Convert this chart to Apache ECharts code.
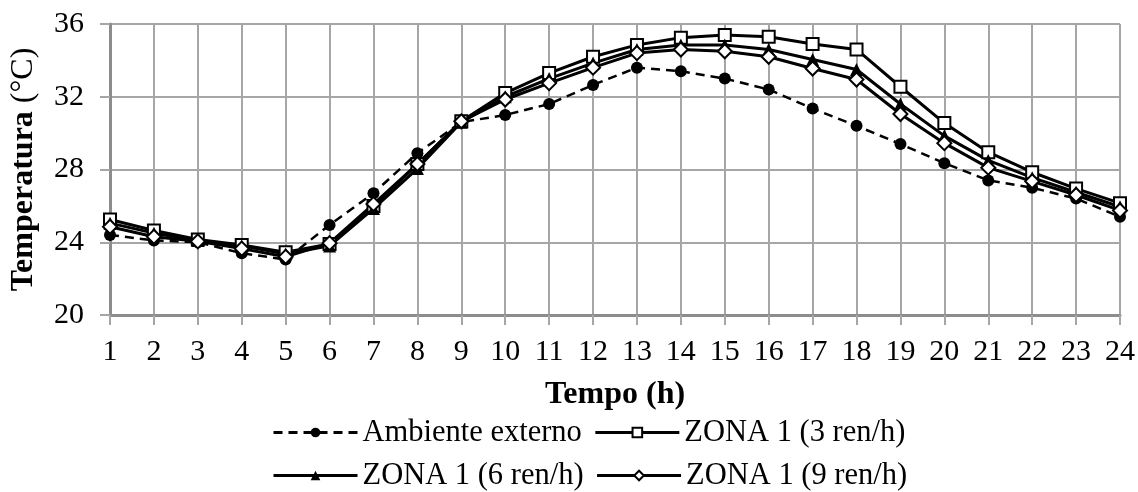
<!DOCTYPE html>
<html>
<head>
<meta charset="utf-8">
<script src="https://cdn.jsdelivr.net/npm/echarts@6/dist/echarts.min.js"></script>
<style>
html,body{margin:0;padding:0;background:#fff;}
#c{width:1138px;height:492px;}
</style>
</head>
<body>
<div id="c"></div>
<script>
const hours = ['1','2','3','4','5','6','7','8','9','10','11','12','13','14','15','16','17','18','19','20','21','22','23','24'];
const yTicks = [20, 24, 28, 32, 36];
const ambiente = [24.4, 24.1, 24.0, 23.4, 23.05, 24.95, 26.7, 28.9, 30.6, 31.0, 31.6, 32.65, 33.6, 33.4, 33.0, 32.4, 31.35, 30.4, 29.4, 28.35, 27.4, 27.0, 26.4, 25.4];
const zona3 = [25.25, 24.65, 24.15, 23.85, 23.45, 23.9, 26.0, 28.3, 30.65, 32.2, 33.3, 34.2, 34.85, 35.25, 35.4, 35.3, 34.9, 34.6, 32.55, 30.55, 28.95, 27.85, 26.95, 26.15];
const zona6 = [25.05, 24.5, 24.1, 23.8, 23.35, 23.8, 25.85, 28.05, 30.6, 32.0, 33.0, 33.85, 34.6, 34.85, 34.85, 34.6, 34.05, 33.5, 31.6, 29.85, 28.5, 27.55, 26.75, 25.95];
const zona9 = [24.85, 24.3, 24.05, 23.65, 23.2, 23.95, 26.1, 28.3, 30.65, 31.85, 32.75, 33.6, 34.4, 34.6, 34.5, 34.2, 33.55, 32.95, 31.05, 29.45, 28.1, 27.35, 26.6, 25.75];
const names = ['Ambiente externo', 'ZONA 1 (3 ren/h)', 'ZONA 1 (6 ren/h)', 'ZONA 1 (9 ren/h)'];

const FONT = 'Liberation Serif';
const chart = echarts.init(document.getElementById('c'), null, {renderer: 'canvas'});
const gridLine = {color: '#a6a6a6', width: 2};
const legendCommon = {
  left: 272, padding: 0, itemWidth: 84, itemHeight: 12, itemGap: 12,
  lineStyle: {width: 3},
  textStyle: {fontFamily: FONT, fontSize: 30.5, color: '#000'}
};
chart.setOption({
  animation: false,
  grid: {left: 108, right: 17, top: 24, bottom: 177},
  legend: [
    Object.assign({top: 417, data: [names[0], names[1]]}, legendCommon),
    Object.assign({top: 460, data: [names[2], names[3]]}, legendCommon)
  ],
  xAxis: {
    type: 'category', data: hours, boundaryGap: false,
    name: 'Tempo (h)', nameLocation: 'middle', nameGap: 64,
    nameTextStyle: {fontFamily: FONT, fontSize: 32, fontWeight: 'bold', color: '#000'},
    axisLine: {lineStyle: {color: '#8c8c8c', width: 3}},
    axisTick: {show: true, length: 10, lineStyle: gridLine},
    axisLabel: {fontFamily: FONT, fontSize: 30, color: '#000', margin: 22, interval: 0},
    splitLine: {show: true, lineStyle: gridLine}
  },
  yAxis: {
    type: 'value', min: yTicks[0], max: yTicks[yTicks.length - 1], interval: 4,
    name: '{b|Temperatura} {r|(°C)}', nameLocation: 'middle', nameGap: 70, nameRotate: 90,
    nameTextStyle: {
      fontFamily: FONT, fontSize: 32, color: '#000',
      rich: {
        b: {fontFamily: FONT, fontSize: 32, fontWeight: 'bold', color: '#000'},
        r: {fontFamily: FONT, fontSize: 32, color: '#000'}
      }
    },
    axisLine: {show: true, lineStyle: {color: '#8c8c8c', width: 3}},
    axisTick: {show: true, length: 10, lineStyle: gridLine},
    axisLabel: {fontFamily: FONT, fontSize: 30, color: '#000', margin: 26},
    splitLine: {show: true, lineStyle: gridLine}
  },
  series: [
    {
      name: names[0], type: 'line', data: ambiente, symbol: 'circle', symbolSize: 12,
      itemStyle: {color: '#000'},
      lineStyle: {color: '#000', width: 2.5, type: [9, 6]}
    },
    {
      name: names[1], type: 'line', data: zona3, symbol: 'rect', symbolSize: 12,
      itemStyle: {color: '#fff', borderColor: '#000', borderWidth: 2},
      lineStyle: {color: '#000', width: 3}
    },
    {
      name: names[2], type: 'line', data: zona6, symbol: 'triangle', symbolSize: 13,
      itemStyle: {color: '#000'},
      lineStyle: {color: '#000', width: 3}
    },
    {
      name: names[3], type: 'line', data: zona9, symbol: 'diamond', symbolSize: 14,
      itemStyle: {color: '#fff', borderColor: '#000', borderWidth: 2},
      lineStyle: {color: '#000', width: 3}
    }
  ]
});
</script>
</body>
</html>
